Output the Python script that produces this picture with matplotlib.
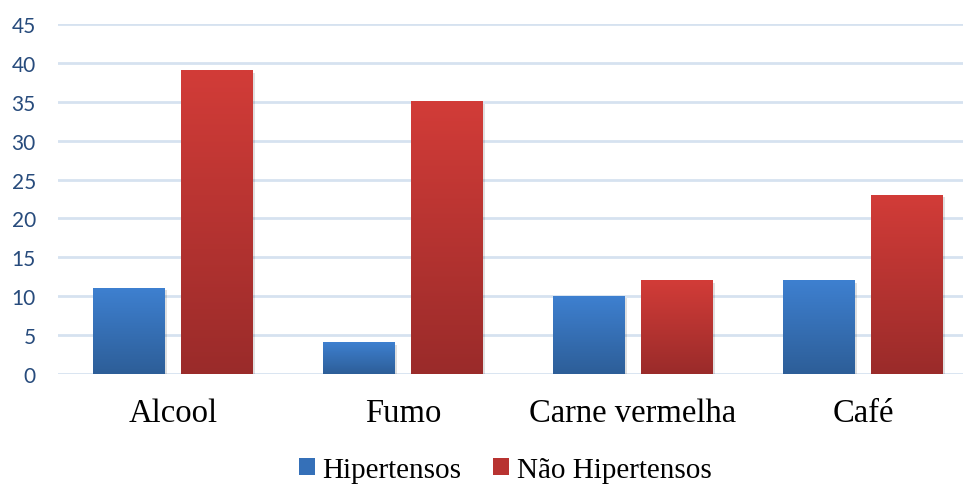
import matplotlib
matplotlib.use("Agg")
import numpy as np
from matplotlib import pyplot as plt
from matplotlib.colors import LinearSegmentedColormap
from matplotlib.patches import Patch, Rectangle

# dados
categorias = ["Alcool", "Fumo", "Carne vermelha", "Café"]
hipertensos = [11, 4, 10, 12]
nao_hipertensos = [39, 35, 12, 23]
series_nomes = ["Hipertensos", "Não Hipertensos"]
y_ticks = [0, 5, 10, 15, 20, 25, 30, 35, 40, 45]

# gradientes (base escura -> topo claro)
azul = LinearSegmentedColormap.from_list("azul", ["#2d5e98", "#3e80d0"])
vermelho = LinearSegmentedColormap.from_list("verm", ["#9a2b2a", "#d23c38"])

fig = plt.figure(figsize=(9.63, 4.85), dpi=100)
ax = fig.add_axes([58 / 963, 110 / 485, 905 / 963, 350 / 485])

x = np.arange(len(categorias))
largura = 0.313
desloc = 0.191
grad = np.linspace(0, 1, 256).reshape(-1, 1)


def barras_gradiente(xs, vals, cmap):
    for xc, v in zip(xs, vals):
        x0, x1 = xc - largura / 2, xc + largura / 2
        # sombra leve
        ax.add_patch(Rectangle((x0 + 0.008, -0.25), largura, v, color="#000000",
                               alpha=0.12, lw=0, zorder=2))
        ax.imshow(grad, extent=[x0, x1, 0, v], origin="lower", cmap=cmap,
                  aspect="auto", zorder=3, interpolation="bilinear")


barras_gradiente(x - desloc, hipertensos, azul)
barras_gradiente(x + desloc, nao_hipertensos, vermelho)

ax.set_xlim(-0.5, -0.5 + 905 / 230)
ax.set_ylim(0, 45)
ax.set_yticks(y_ticks)
ax.yaxis.grid(True, color="#d6e2f0", lw=2)
ax.set_axisbelow(True)
for s in ax.spines.values():
    s.set_visible(False)
ax.tick_params(axis="both", length=0)
ax.tick_params(axis="y", pad=16, labelcolor="#274b7c", labelsize=15)
for lb in ax.get_yticklabels():
    lb.set_fontfamily("Lato")
    lb.set_horizontalalignment("right")
ax.set_xticks(x)
ax.set_xticklabels(categorias, fontfamily="Liberation Serif", fontsize=23.5)
ax.tick_params(axis="x", pad=17)

handles = [Patch(facecolor="#3570b8", edgecolor="none"),
           Patch(facecolor="#b83331", edgecolor="none")]
fig.legend(handles, series_nomes, loc="center", bbox_to_anchor=(505 / 963, 14 / 485),
           ncol=2, frameon=False, handlelength=0.55, handleheight=0.55,
           handletextpad=0.25, columnspacing=1.1,
           prop={"family": "Liberation Serif", "size": 21})

plt.savefig("out.png", dpi=100)
plt.close()
